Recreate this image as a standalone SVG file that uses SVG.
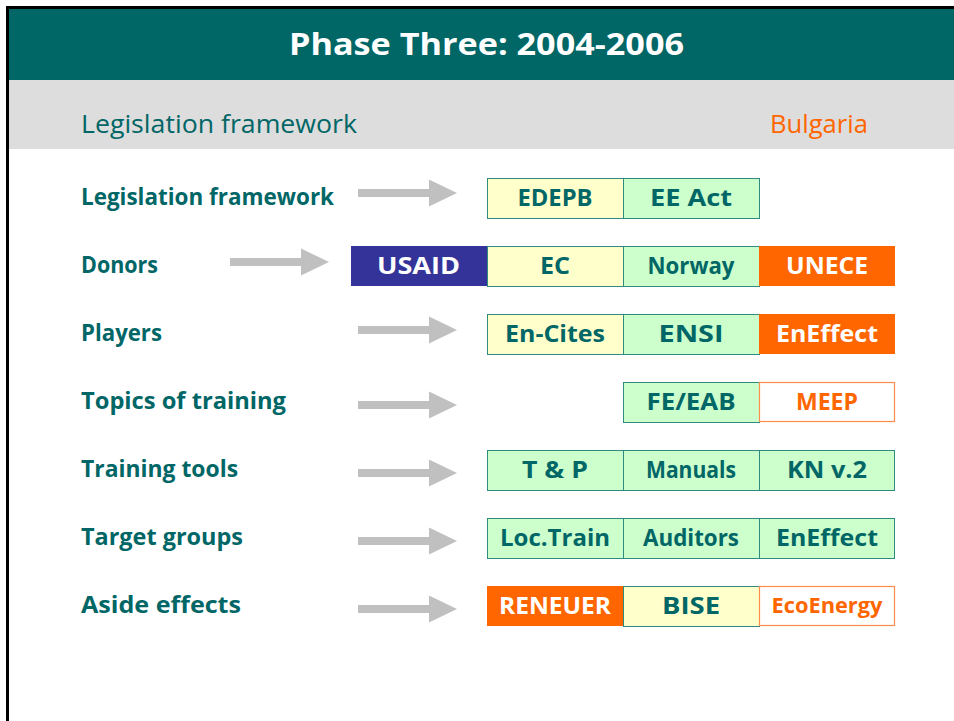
<svg xmlns="http://www.w3.org/2000/svg" xmlns:xlink="http://www.w3.org/1999/xlink" width="954" height="721" viewBox="0 0 954 721">
<style>
.lbl{font-family:"Open Sans","DejaVu Sans",sans-serif;font-weight:bold;font-size:24px;fill:#006666}
.bt{font-family:"Open Sans","DejaVu Sans",sans-serif;font-weight:bold;font-size:24px;text-anchor:middle;fill:#006666}
.w{fill:#ffffff}
.o{fill:#ff6600}
.y{fill:#ffffcc;stroke:#2f8a80;stroke-width:1}
.g{fill:#ccffcc;stroke:#2f8a80;stroke-width:1}
.b{fill:#333399}
.of{fill:#ff6600}
.ow{fill:#ffffff;stroke:#ff8c4a;stroke-width:1.2}
.arr{fill:#c0c0c0}
</style>
<defs>
<path id="arrow" d="M0,-4 H71 V-13.5 L99,0 L71,13.5 V4 H0 Z"/>
</defs>
<rect x="0" y="0" width="954" height="721" fill="#ffffff"/>
<g id="header">
<rect x="8" y="8" width="946" height="72" fill="#006666"/>
<rect x="8" y="80" width="946" height="69" fill="#dddddd"/>
<line x1="7.5" y1="7.5" x2="954" y2="7.5" stroke="#000" stroke-width="3"/>
<line x1="7.5" y1="6" x2="7.5" y2="721" stroke="#000" stroke-width="3"/>
<text x="486.5" y="55" text-anchor="middle" textLength="395" lengthAdjust="spacingAndGlyphs" style="font-family:'Open Sans','DejaVu Sans',sans-serif;font-weight:bold;font-size:30px;fill:#ffffff">Phase Three: 2004-2006</text>
<text x="81" y="133" textLength="276" lengthAdjust="spacingAndGlyphs" style="font-family:'Open Sans','DejaVu Sans',sans-serif;font-size:26px;fill:#006666">Legislation framework</text>
<text x="770" y="133" textLength="98" lengthAdjust="spacingAndGlyphs" style="font-family:'Open Sans','DejaVu Sans',sans-serif;font-size:26px;fill:#ff6600">Bulgaria</text>
</g>
<g id="connectors" class="arr">
<use xlink:href="#arrow" x="358" y="193"/>
<use xlink:href="#arrow" x="230" y="262"/>
<use xlink:href="#arrow" x="358" y="330"/>
<use xlink:href="#arrow" x="358" y="405"/>
<use xlink:href="#arrow" x="358" y="473"/>
<use xlink:href="#arrow" x="358" y="541"/>
<use xlink:href="#arrow" x="358" y="609"/>
</g>
<g id="row-legislation">
<text class="lbl" x="81" y="205" textLength="253" lengthAdjust="spacingAndGlyphs">Legislation framework</text>
<g id="n-edepb"><rect class="y" x="487.5" y="178.5" width="136" height="40"/><text class="bt" x="555" y="206" textLength="75" lengthAdjust="spacingAndGlyphs">EDEPB</text></g>
<g id="n-eeact"><rect class="g" x="623.5" y="178.5" width="136" height="40"/><text class="bt" x="691" y="206" textLength="82" lengthAdjust="spacingAndGlyphs">EE Act</text></g>
</g>
<g id="row-donors">
<text class="lbl" x="81" y="273" textLength="77" lengthAdjust="spacingAndGlyphs">Donors</text>
<g id="n-usaid"><rect class="b" x="351" y="246" width="136" height="40"/><text class="bt w" x="418.5" y="274" textLength="83" lengthAdjust="spacingAndGlyphs">USAID</text></g>
<g id="n-ec"><rect class="y" x="487.5" y="246.5" width="136" height="40"/><text class="bt" x="555" y="274" textLength="30" lengthAdjust="spacingAndGlyphs">EC</text></g>
<g id="n-norway"><rect class="g" x="623.5" y="246.5" width="136" height="40"/><text class="bt" x="691" y="274" textLength="87" lengthAdjust="spacingAndGlyphs">Norway</text></g>
<g id="n-unece"><rect class="of" x="759" y="246" width="136" height="40"/><text class="bt w" x="827" y="274" textLength="82" lengthAdjust="spacingAndGlyphs">UNECE</text></g>
</g>
<g id="row-players">
<text class="lbl" x="81" y="341" textLength="81" lengthAdjust="spacingAndGlyphs">Players</text>
<g id="n-encites"><rect class="y" x="487.5" y="314.5" width="136" height="40"/><text class="bt" x="555" y="342" textLength="100" lengthAdjust="spacingAndGlyphs">En-Cites</text></g>
<g id="n-ensi"><rect class="g" x="623.5" y="314.5" width="136" height="40"/><text class="bt" x="691" y="342" textLength="65" lengthAdjust="spacingAndGlyphs">ENSI</text></g>
<g id="n-eneffect1"><rect class="of" x="759" y="314" width="136" height="40"/><text class="bt w" x="827" y="342" textLength="102" lengthAdjust="spacingAndGlyphs">EnEffect</text></g>
</g>
<g id="row-topics">
<text class="lbl" x="81" y="409" textLength="205" lengthAdjust="spacingAndGlyphs">Topics of training</text>
<g id="n-feeab"><rect class="g" x="623.5" y="382.5" width="136" height="40"/><text class="bt" x="691" y="410" textLength="89" lengthAdjust="spacingAndGlyphs">FE/EAB</text></g>
<g id="n-meep"><rect class="ow" x="759.5" y="382.5" width="135" height="39"/><text class="bt o" x="827" y="410" textLength="62" lengthAdjust="spacingAndGlyphs">MEEP</text></g>
</g>
<g id="row-tools">
<text class="lbl" x="81" y="477" textLength="157" lengthAdjust="spacingAndGlyphs">Training tools</text>
<g id="n-tp"><rect class="g" x="487.5" y="450.5" width="136" height="40"/><text class="bt" x="555" y="478" textLength="66" lengthAdjust="spacingAndGlyphs">T &amp; P</text></g>
<g id="n-manuals"><rect class="g" x="623.5" y="450.5" width="136" height="40"/><text class="bt" x="691" y="478" textLength="90" lengthAdjust="spacingAndGlyphs">Manuals</text></g>
<g id="n-knv2"><rect class="g" x="759.5" y="450.5" width="135" height="40"/><text class="bt" x="827" y="478" textLength="80" lengthAdjust="spacingAndGlyphs">KN v.2</text></g>
</g>
<g id="row-target">
<text class="lbl" x="81" y="545" textLength="162" lengthAdjust="spacingAndGlyphs">Target groups</text>
<g id="n-loctrain"><rect class="g" x="487.5" y="518.5" width="136" height="40"/><text class="bt" x="555" y="546" textLength="110" lengthAdjust="spacingAndGlyphs">Loc.Train</text></g>
<g id="n-auditors"><rect class="g" x="623.5" y="518.5" width="136" height="40"/><text class="bt" x="691" y="546" textLength="96" lengthAdjust="spacingAndGlyphs">Auditors</text></g>
<g id="n-eneffect2"><rect class="g" x="759.5" y="518.5" width="135" height="40"/><text class="bt" x="827" y="546" textLength="102" lengthAdjust="spacingAndGlyphs">EnEffect</text></g>
</g>
<g id="row-aside">
<text class="lbl" x="81" y="613" textLength="160" lengthAdjust="spacingAndGlyphs">Aside effects</text>
<g id="n-reneuer"><rect class="of" x="487" y="586" width="136" height="40"/><text class="bt w" x="555" y="614" textLength="112" lengthAdjust="spacingAndGlyphs">RENEUER</text></g>
<g id="n-bise"><rect class="y" x="623.5" y="586.5" width="136" height="40"/><text class="bt" x="691" y="614" textLength="58" lengthAdjust="spacingAndGlyphs">BISE</text></g>
<g id="n-ecoenergy"><rect class="ow" x="759.5" y="586.5" width="135" height="39"/><text class="bt o" x="827" y="613" textLength="111" lengthAdjust="spacingAndGlyphs" style="font-size:22px">EcoEnergy</text></g>
</g>
</svg>
